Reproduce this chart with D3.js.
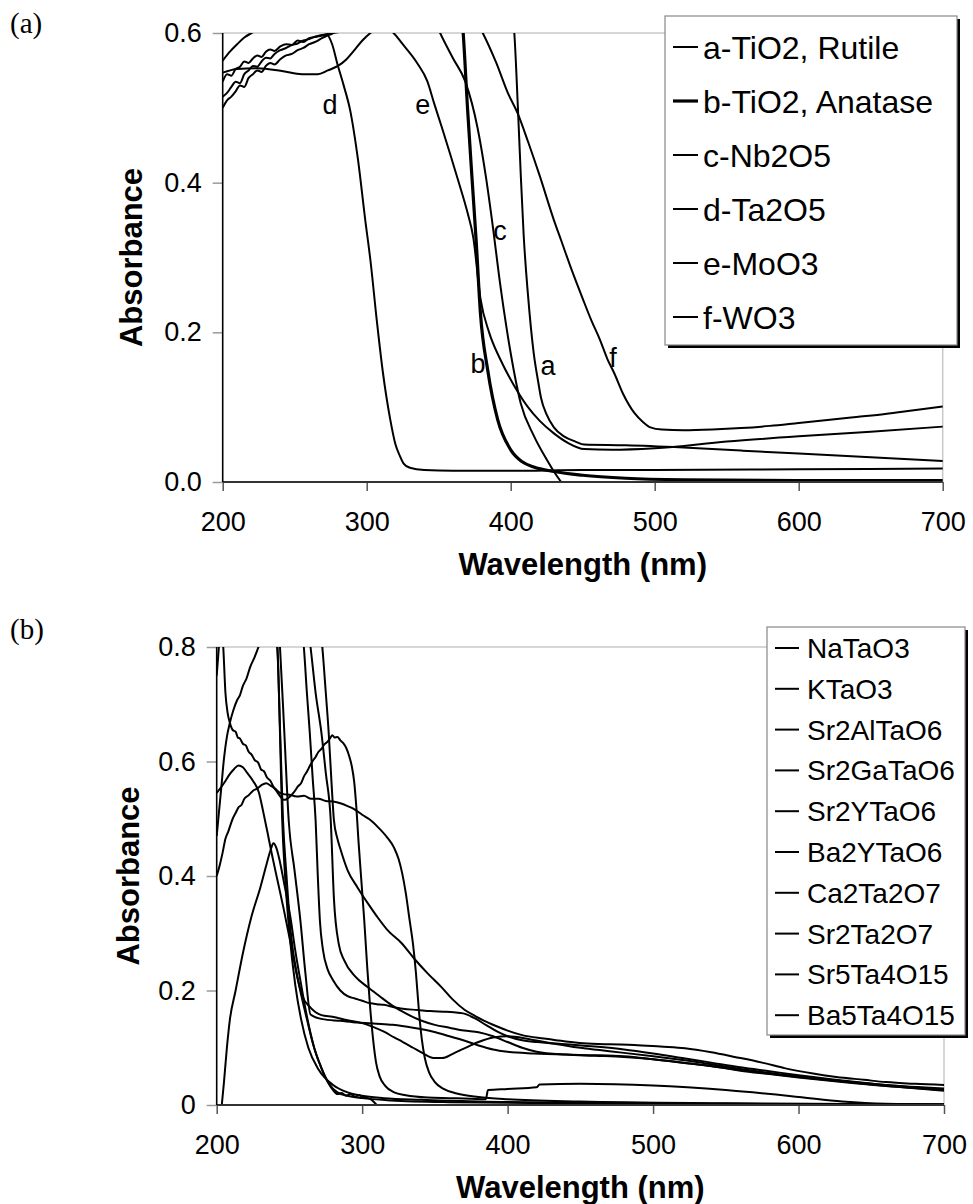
<!DOCTYPE html>
<html>
<head>
<meta charset="utf-8">
<script src="https://cdn.jsdelivr.net/npm/d3@7"></script>
<style>
  body { margin: 0; background: #fff; }
  text { font-family: Arial, "Liberation Sans", sans-serif; fill: #000; }
</style>
</head>
<body>
<div id="chart"></div>
<script>
// ---- shared ticks ----
var wavelengthTicks = [200, 300, 400, 500, 600, 700];
var absTicksA = [0, 0.2, 0.4, 0.6];
var absTicksB = [0, 0.2, 0.4, 0.6, 0.8];

// ---- panel (a): simple oxides, [wavelength nm, absorbance] ----
var namesA = ["a-TiO2, Rutile", "b-TiO2, Anatase", "c-Nb2O5", "d-Ta2O5", "e-MoO3", "f-WO3"];

var rutile = [[200,0.535],[203,0.545],[206,0.543],[209,0.552],[212,0.555],[215,0.562],[218,0.56],[221,0.566],[224,0.57],[227,0.568],[230,0.575],[233,0.578],[236,0.576],[240,0.582],[244,0.585],[248,0.584],[252,0.59],[256,0.588],[260,0.593],[265,0.595],[270,0.597],[275,0.6],[280,0.601],[285,0.604],[290,0.612],[320,0.68],[390,0.7],[398,0.66],[402.5,0.6],[405,0.5],[407,0.41],[409,0.33],[412,0.25],[416,0.172],[419,0.135],[421,0.113],[425,0.09],[430,0.073],[437,0.061],[445,0.054],[451,0.05],[480,0.049],[520,0.046],[560,0.042],[600,0.038],[650,0.033],[700,0.028]];
var anatase = [[200,0.7],[300,0.75],[355,0.72],[364,0.66],[367,0.6],[370,0.5],[373,0.41],[376,0.323],[379,0.225],[384,0.15],[391,0.083],[400,0.043],[408,0.027],[416,0.02],[430,0.014],[450,0.009],[480,0.005],[520,0.003],[600,0.002],[700,0.002]];
var nb2o5 = [[200,0.5],[203,0.51],[206,0.515],[209,0.522],[212,0.53],[215,0.528],[218,0.54],[221,0.545],[224,0.55],[227,0.548],[230,0.556],[233,0.56],[236,0.558],[240,0.565],[244,0.57],[248,0.572],[252,0.577],[256,0.58],[260,0.585],[264,0.588],[268,0.592],[272,0.596],[276,0.599],[280,0.603],[290,0.63],[320,0.68],[340,0.65],[351,0.6],[360,0.566],[368.5,0.535],[377,0.473],[383,0.405],[387,0.35],[393,0.26],[400,0.172],[407,0.105],[416,0.062],[425,0.03],[430,0.014],[435,0]];
var ta2o5 = [[200,0.515],[203,0.52],[206,0.528],[209,0.535],[212,0.533],[215,0.545],[218,0.55],[221,0.556],[224,0.555],[227,0.562],[230,0.567],[233,0.566],[236,0.572],[240,0.577],[244,0.58],[248,0.584],[252,0.586],[256,0.59],[260,0.592],[264,0.595],[268,0.597],[272,0.598],[276,0.585],[279.6,0.559],[284,0.53],[288.6,0.496],[294,0.43],[299,0.35],[302.6,0.296],[307,0.216],[311,0.15],[316.4,0.083],[320,0.05],[323,0.035],[325.5,0.025],[330,0.019],[340,0.016],[360,0.015],[400,0.015],[450,0.016],[500,0.016],[600,0.017],[700,0.018]];
var moo3 = [[200,0.547],[210,0.552],[224,0.553],[242,0.549],[255,0.545],[266,0.545],[273,0.55],[280,0.556],[286,0.565],[291,0.576],[297,0.59],[302.6,0.6],[307,0.606],[311,0.608],[315,0.605],[318.6,0.6],[325,0.585],[335,0.56],[342,0.536],[347,0.505],[352,0.475],[358,0.438],[364,0.4],[370,0.36],[374,0.327],[379,0.245],[385,0.2],[393,0.163],[402,0.13],[412,0.1],[420,0.082],[430,0.065],[440,0.052],[451,0.044],[470,0.043],[500,0.045],[550,0.054],[600,0.061],[650,0.067],[700,0.074]];
var wo3 = [[200,0.563],[205,0.575],[210,0.585],[215,0.594],[221,0.601],[240,0.63],[300,0.7],[360,0.66],[375,0.62],[380.6,0.6],[390,0.56],[398,0.52],[405,0.492],[412,0.455],[420,0.41],[430,0.35],[435,0.323],[443,0.28],[450,0.245],[456,0.216],[462,0.19],[467,0.165],[472,0.145],[478,0.118],[486,0.092],[492,0.08],[497,0.073],[505,0.07],[520,0.069],[540,0.07],[560,0.072],[580,0.075],[600,0.079],[620,0.083],[640,0.087],[660,0.091],[680,0.096],[700,0.101]];

var curveLabelsA = [
  {t: "d", x: 274.5, y: 0.505},
  {t: "e", x: 339, y: 0.505},
  {t: "c", x: 392.6, y: 0.336},
  {t: "b", x: 377.3, y: 0.159},
  {t: "a", x: 426, y: 0.156},
  {t: "f", x: 471, y: 0.167}
];

// ---- panel (b): tantalates ----
var namesB = ["NaTaO3", "KTaO3", "Sr2AlTaO6", "Sr2GaTaO6", "Sr2YTaO6", "Ba2YTaO6", "Ca2Ta2O7", "Sr2Ta2O7", "Sr5Ta4O15", "Ba5Ta4O15"];

var naTaO3 = [[200,0.75],[201.5,0.8],[203,0.84],[204.5,0.8],[206,0.72],[207.5,0.685],[209,0.668],[211,0.655],[213,0.652],[214.5,0.642],[216,0.64],[218,0.631],[220,0.628],[222,0.617],[224,0.612],[226,0.603],[228.5,0.598],[230.5,0.586],[232.5,0.583],[234.6,0.572],[237,0.566],[239,0.556],[241.5,0.547],[244,0.538],[246,0.533],[248,0.534],[250,0.538],[253,0.546],[256,0.557],[258,0.562],[260,0.574],[262,0.582],[264,0.592],[266,0.601],[268,0.608],[270,0.617],[272,0.622],[274,0.63],[276,0.634],[278,0.641],[279.5,0.646],[281,0.642],[283,0.643],[285,0.637],[287,0.632],[289,0.624],[291,0.61],[293,0.59],[294.5,0.565],[296,0.52],[297.5,0.46],[299.5,0.39],[301.5,0.32],[303.5,0.24],[305.5,0.17],[307.5,0.115],[309.5,0.075],[312,0.05],[316,0.033],[322,0.022],[330,0.017],[345,0.013],[360,0.012],[375,0.011],[385,0.01],[386.5,0.026],[400,0.028],[420,0.031],[422,0.036],[450,0.037],[500,0.034],[550,0.026],[600,0.014],[630,0.006],[660,0.002],[700,0.001]];
var kTaO3 = [[200,0.545],[203,0.555],[206,0.566],[209,0.578],[212,0.587],[215,0.593],[218,0.59],[221,0.58],[225,0.566],[229,0.546],[232,0.512],[235,0.475],[238,0.437],[242,0.39],[246,0.343],[251,0.28],[255.5,0.222],[262,0.15],[267,0.1],[272,0.064],[277,0.038],[283,0.022],[290,0.016],[300,0.012],[320,0.008],[360,0.005],[450,0.003],[700,0.001]];
var sr2AlTaO6 = [[200,0.4],[202,0.418],[204,0.44],[206,0.465],[208,0.478],[211,0.5],[213,0.51],[215,0.52],[217,0.524],[219,0.535],[222,0.541],[225,0.549],[228,0.553],[231,0.559],[234,0.562],[237,0.558],[240,0.553],[243,0.546],[246,0.543],[250,0.542],[255,0.539],[260,0.54],[265,0.535],[270,0.535],[275,0.531],[280,0.53],[285,0.527],[290,0.522],[295,0.516],[300,0.507],[305,0.499],[311,0.485],[317,0.468],[322,0.449],[325,0.43],[327.5,0.405],[330,0.37],[332.5,0.325],[335,0.28],[337,0.23],[339,0.165],[341,0.115],[343,0.083],[346,0.057],[350,0.04],[356,0.028],[365,0.02],[380,0.014],[400,0.01],[450,0.006],[550,0.003],[700,0.001]];
var sr2GaTaO6 = [[200,0.47],[201.5,0.51],[203,0.55],[205,0.605],[207,0.643],[209,0.667],[211.5,0.69],[214,0.707],[216,0.716],[218,0.732],[220.5,0.745],[223,0.765],[226,0.782],[229,0.802],[232,0.825],[235,0.838],[238,0.83],[240,0.81],[241.5,0.8],[243.5,0.66],[245.6,0.497],[248,0.4],[251,0.3],[255,0.23],[259,0.19],[264.5,0.17],[268,0.162],[272,0.157],[279.6,0.154],[290,0.148],[300,0.143],[307,0.137],[315,0.128],[322,0.118],[328,0.11],[335,0.1],[342,0.09],[349,0.082],[355,0.082],[362,0.089],[369.5,0.098],[380,0.11],[390,0.118],[400,0.12],[415,0.115],[430,0.108],[450,0.1],[470,0.094],[500,0.085],[530,0.075],[560,0.063],[600,0.05],[650,0.037],[700,0.026]];
var sr2YTaO6 = [[203.5,0],[205,0.04],[207,0.1],[209,0.148],[213,0.2],[218,0.265],[224,0.33],[230,0.38],[234,0.418],[237,0.445],[239,0.457],[241,0.449],[243,0.43],[246,0.392],[251,0.323],[254,0.27],[257.5,0.218],[262,0.155],[267,0.1],[272,0.065],[276,0.042],[280,0.026],[283,0.019],[286,0.021],[289,0.016],[292,0.019],[295,0.015],[298,0.017],[301,0.013],[304,0.012],[307,0.008],[310,0]];
var ba2YTaO6 = [[250,0.95],[259.9,0.8],[262,0.72],[264,0.65],[266,0.57],[268,0.497],[269.5,0.4],[271,0.32],[273,0.272],[276.4,0.236],[280,0.218],[285,0.2],[290,0.19],[295,0.186],[300,0.182],[305,0.178],[310,0.176],[315,0.175],[320,0.172],[328,0.168],[338,0.166],[347,0.164],[356,0.163],[363,0.162],[369.5,0.16],[377,0.152],[385,0.14],[393,0.128],[400,0.12],[410,0.113],[420,0.11],[440,0.106],[460,0.102],[480,0.097],[500,0.09],[520,0.082],[540,0.074],[560,0.066],[580,0.059],[600,0.052],[630,0.043],[660,0.035],[700,0.029]];
var ca2Ta2O7 = [[255,0.95],[264.5,0.8],[268,0.72],[272,0.65],[275,0.58],[278.4,0.497],[280.6,0.36],[284,0.28],[287.6,0.253],[295,0.225],[303.7,0.206],[312,0.19],[320,0.175],[330,0.16],[340,0.148],[350,0.14],[360,0.135],[370,0.13],[380,0.127],[390,0.12],[400,0.11],[410,0.1],[420,0.093],[440,0.088],[460,0.086],[480,0.084],[500,0.08],[520,0.074],[540,0.068],[560,0.06],[580,0.054],[600,0.048],[630,0.04],[660,0.033],[700,0.026]];
var sr2Ta2O7 = [[262,0.95],[272.6,0.8],[275,0.72],[277,0.65],[279,0.56],[280.6,0.497],[283,0.465],[285.3,0.445],[290,0.41],[296.8,0.38],[303.7,0.353],[310,0.33],[317.6,0.305],[327,0.283],[336,0.255],[345,0.23],[354.5,0.206],[362,0.185],[370.6,0.166],[378,0.155],[384,0.147],[392,0.138],[400,0.13],[410,0.122],[425,0.116],[440,0.111],[452,0.108],[470,0.106],[487,0.105],[505,0.102],[522,0.099],[540,0.092],[556,0.084],[575,0.074],[591,0.064],[610,0.055],[626,0.049],[645,0.044],[660,0.04],[680,0.037],[700,0.035]];
var sr5Ta4O15 = [[238,0.95],[243.5,0.8],[246.5,0.65],[249.5,0.497],[253.5,0.41],[257.5,0.323],[261,0.23],[264.5,0.158],[272.7,0.15],[285,0.147],[297,0.144],[310,0.142],[321,0.14],[335,0.135],[349,0.128],[360,0.12],[369.5,0.113],[380,0.104],[390,0.097],[400,0.093],[418,0.09],[440,0.088],[460,0.087],[480,0.085],[500,0.08],[530,0.071],[560,0.061],[600,0.049],[650,0.036],[700,0.025]];
var ba5Ta4O15 = [[200,1.2],[238,0.9],[241.8,0.8],[243.5,0.65],[245,0.5],[247,0.4],[250,0.3],[254,0.21],[258,0.15],[263,0.1],[270,0.062],[280,0.035],[290,0.022],[300,0.016],[315,0.012],[340,0.009],[380,0.006],[450,0.004],[550,0.002],[700,0.001]];

var seriesA = [rutile, anatase, nb2o5, ta2o5, moo3, wo3];
var widthsA = [2, 3.2, 2, 2, 2, 2];
var seriesB = [naTaO3, kTaO3, sr2AlTaO6, sr2GaTaO6, sr2YTaO6, ba2YTaO6, ca2Ta2O7, sr2Ta2O7, sr5Ta4O15, ba5Ta4O15];

var W = 973, H = 1204;
var svg = d3.select("#chart").append("svg")
  .attr("width", W).attr("height", H)
  .style("background", "#fff");

function drawPanel(cfg) {
  var x = d3.scaleLinear().domain([200, 700]).range([cfg.left, cfg.right]);
  var y = d3.scaleLinear().domain([0, cfg.yMax]).range([cfg.bottom, cfg.top]);
  var g = svg.append("g");

  // plot frame: light grey top and right
  g.append("line").attr("x1", cfg.left).attr("x2", cfg.right)
    .attr("y1", cfg.top).attr("y2", cfg.top).attr("stroke", "#c8c8c8").attr("stroke-width", 1.5);
  g.append("line").attr("x1", cfg.right).attr("x2", cfg.right)
    .attr("y1", cfg.top).attr("y2", cfg.bottom).attr("stroke", "#c8c8c8").attr("stroke-width", 1.5);

  // x axis
  var xAxis = g.append("g").attr("transform", "translate(0," + cfg.bottom + ")")
    .call(d3.axisBottom(x).tickValues(wavelengthTicks).tickSize(9).tickPadding(21).tickFormat(d3.format("d")));
  xAxis.select(".domain").remove();
  xAxis.selectAll(".tick line").attr("stroke", "#555").attr("stroke-width", 1.5);
  xAxis.selectAll(".tick text").attr("font-size", 27);

  // y axis
  var yAxis = g.append("g").attr("transform", "translate(" + cfg.left + ",0)")
    .call(d3.axisLeft(y).tickValues(cfg.yTicks).tickSize(10).tickPadding(11).tickFormat(cfg.yFormat));
  yAxis.select(".domain").remove();
  yAxis.selectAll(".tick line").attr("stroke", "#999").attr("stroke-width", 1.5);
  yAxis.selectAll(".tick text").attr("font-size", 27);

  // clip
  var clipId = "clip" + cfg.id;
  svg.append("clipPath").attr("id", clipId).append("rect")
    .attr("x", cfg.left).attr("y", cfg.top)
    .attr("width", cfg.right - cfg.left + 2).attr("height", cfg.bottom - cfg.top + 3);

  var line = d3.line()
    .x(function(d) { return x(d[0]); })
    .y(function(d) { return y(d[1]); })
    .curve(d3.curveMonotoneX);

  g.append("g").attr("clip-path", "url(#" + clipId + ")")
    .selectAll("path").data(cfg.series).enter().append("path")
    .attr("d", line)
    .attr("fill", "none")
    .attr("stroke", "#000")
    .attr("stroke-width", function(d, i) { return cfg.widths ? cfg.widths[i] : 2; })
    .attr("stroke-linejoin", "round");

  // axis lines on top
  g.append("line").attr("x1", cfg.left).attr("x2", cfg.right)
    .attr("y1", cfg.bottom).attr("y2", cfg.bottom).attr("stroke", "#333").attr("stroke-width", 2);
  g.append("line").attr("x1", cfg.left).attr("x2", cfg.left)
    .attr("y1", cfg.top).attr("y2", cfg.bottom).attr("stroke", "#000").attr("stroke-width", 1.6);

  // axis titles
  g.append("text").attr("x", (cfg.left + cfg.right) / 2).attr("y", cfg.bottom + 93)
    .attr("text-anchor", "middle").attr("font-size", 31).attr("font-weight", "bold")
    .text("Wavelength (nm)");
  g.append("text")
    .attr("transform", "translate(" + cfg.yTitleX + "," + ((cfg.top + cfg.bottom) / 2) + ") rotate(-90)")
    .attr("text-anchor", "middle").attr("dy", "0.35em")
    .attr("font-size", 31).attr("font-weight", "bold")
    .text("Absorbance");

  // panel tag (serif)
  g.append("text").attr("x", 10).attr("y", cfg.tagY)
    .style("font-family", "'Liberation Serif', 'DejaVu Serif', serif")
    .style("font-size", "29px").text(cfg.tag);

  // legend with drop shadow
  var L = cfg.legend;
  var lg = g.append("g");
  lg.append("rect").attr("x", L.x + 3).attr("y", L.y + 3).attr("width", L.w).attr("height", L.h).attr("fill", "#000");
  lg.append("rect").attr("x", L.x).attr("y", L.y).attr("width", L.w).attr("height", L.h)
    .attr("fill", "#fff").attr("stroke", "#888").attr("stroke-width", 1.2);
  var items = lg.selectAll(".item").data(cfg.names).enter().append("g")
    .attr("transform", function(d, i) { return "translate(" + L.x + "," + (L.y + L.first + i * L.step) + ")"; });
  items.append("line").attr("x1", L.lx1).attr("x2", L.lx2).attr("y1", 0).attr("y2", 0)
    .attr("stroke", "#000")
    .attr("stroke-width", function(d, i) { return cfg.widths ? cfg.widths[i] : 2; });
  items.append("text").attr("x", L.tx).attr("dy", "0.36em")
    .attr("font-size", L.fs).text(function(d) { return d; });

  return {x: x, y: y, g: g};
}

var pa = drawPanel({
  id: "a", left: 222.7, right: 942.7, top: 33, bottom: 482, yMax: 0.6,
  yTicks: absTicksA, yFormat: d3.format(".1f"),
  series: seriesA, widths: widthsA, names: namesA,
  yTitleX: 131, tag: "(a)", tagY: 33,
  legend: {x: 665, y: 16, w: 292, h: 329, first: 31, step: 54, lx1: 8, lx2: 33, tx: 38, fs: 32}
});

pa.g.selectAll(".clabel").data(curveLabelsA).enter().append("text")
  .attr("x", function(d) { return pa.x(d.x); })
  .attr("y", function(d) { return pa.y(d.y); })
  .attr("dy", "0.36em").attr("text-anchor", "middle")
  .attr("font-size", 27).text(function(d) { return d.t; });

drawPanel({
  id: "b", left: 216.7, right: 944, top: 647, bottom: 1105, yMax: 0.8,
  yTicks: absTicksB, yFormat: function(d) { return d === 0 ? "0" : d3.format(".1f")(d); },
  series: seriesB, names: namesB,
  yTitleX: 128, tag: "(b)", tagY: 639,
  legend: {x: 767, y: 627, w: 198, h: 408, first: 21, step: 40.8, lx1: 8, lx2: 32, tx: 40, fs: 28}
});
</script>
</body>
</html>
